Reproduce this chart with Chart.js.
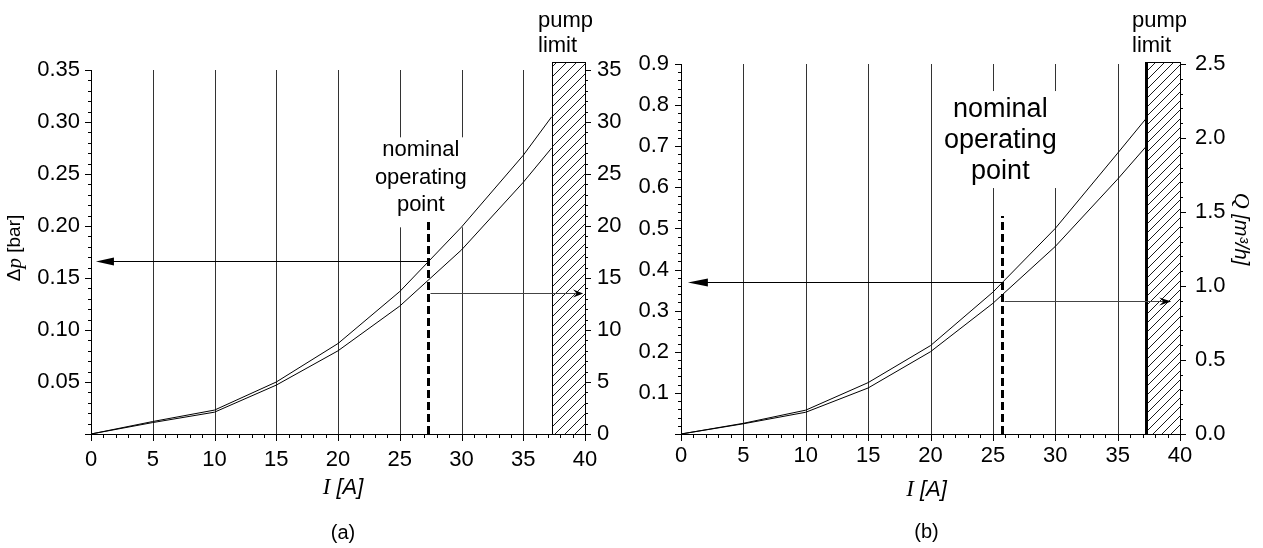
<!DOCTYPE html>
<html><head><meta charset="utf-8">
<script src="https://cdn.jsdelivr.net/npm/chart.js@4/dist/chart.umd.min.js"></script>
<style>
html,body{margin:0;padding:0;background:#fff;width:1263px;height:548px;overflow:hidden}
canvas{position:absolute;top:0}
#ca{left:0}
#cb{left:632px}
</style></head><body>
<canvas id="ca" width="632" height="548"></canvas>
<canvas id="cb" width="631" height="548"></canvas>
<script>
// ---- data ----
const currentA  = [0, 5, 10, 15, 20, 25, 30, 35, 37.3];
const pressureA = [0, 0.012, 0.023, 0.050, 0.087, 0.137, 0.199, 0.268, 0.305];
const flowA     = [0, 1.1, 2.1, 4.7, 8.0, 12.3, 17.7, 24.2, 27.5];

const currentB  = [0, 5, 10, 15, 20, 25, 30, 35, 37.3];
const pressureB = [0, 0.026, 0.058, 0.125, 0.215, 0.345, 0.500, 0.683, 0.768];
const flowB     = [0, 0.069, 0.147, 0.311, 0.556, 0.883, 1.267, 1.722, 1.944];

const xTickLabels  = ['0','5','10','15','20','25','30','35','40'];
const pTickLabelsA = ['0.05','0.10','0.15','0.20','0.25','0.30','0.35'];
const qTickLabelsA = ['0','5','10','15','20','25','30','35'];
const pTickLabelsB = ['0.1','0.2','0.3','0.4','0.5','0.6','0.7','0.8','0.9'];
const qTickLabelsB = ['0.0','0.5','1.0','1.5','2.0','2.5'];

// annotations [panel a, panel b]
const nominalCurrent  = [27.3, 25.7];
const nominalDashTop  = [0.206, 0.53];
const nominalPressure = [0.166, 0.37];
const nominalFlow     = [13.6, 0.90];
const arrowTipLeft    = [0.4, 0.55];
const arrowTipRight   = [39.85, 39.3];
const pumpLimit       = [37.3, 37.3];
const hatchTop        = [0.358, 0.905];
const noteCurrent     = [26.7, 25.6];
const notePressure    = [0.267, 0.771];
const noteLines       = ['nominal', 'operating', 'point'];
const pumpLines       = ['pump', 'limit'];
const captions        = ['(a)', '(b)'];

Chart.defaults.font.family = '"Liberation Sans", Arial, sans-serif';
Chart.defaults.color = '#000';

const SANS = '"Liberation Sans", Arial, sans-serif';
const SERIF = '"Liberation Serif", "Times New Roman", serif';

function isMajor(v, m) { return Math.abs(v / m - Math.round(v / m)) < 1e-6; }
function px(v) { return Math.round(v) + 0.5; }
function labelFrom(arr) {
  return v => { const s = arr.find(t => Math.abs(parseFloat(t) - v) < 1e-9); return s === undefined ? '' : s; };
}
function arrowHead(ctx, tipX, y, dir, len, hw, notch) {
  ctx.beginPath();
  ctx.moveTo(tipX, y);
  ctx.lineTo(tipX - dir * len, y - hw);
  ctx.lineTo(tipX - dir * len * (1 - notch), y);
  ctx.lineTo(tipX - dir * len, y + hw);
  ctx.closePath();
  ctx.fill();
}
function drawRich(ctx, parts, cx, cy, rot) {
  ctx.save();
  ctx.translate(cx, cy);
  ctx.rotate(rot);
  let w = 0;
  parts.forEach(p => { ctx.font = p.f; p.w = ctx.measureText(p.t).width; w += p.w; });
  let x = -w / 2;
  ctx.textBaseline = 'middle'; ctx.textAlign = 'left'; ctx.fillStyle = '#000';
  parts.forEach(p => { ctx.font = p.f; ctx.fillText(p.t, x, p.dy || 0); x += p.w; });
  ctx.restore();
}

function panelPlugin(P) {
  const k = P.k;
  return {
    id: 'panel' + k,
    beforeDatasetsDraw(chart) {
      const { ctx, chartArea: ca, scales: { x, y, y1 } } = chart;
      ctx.save();
      ctx.lineWidth = 1;
      // vertical grid lines at the major currents
      ctx.strokeStyle = '#333';
      x.ticks.forEach(t => {
        if (isMajor(t.value, 5) && t.value > x.min && t.value < x.max) {
          const X = px(x.getPixelForValue(t.value));
          ctx.beginPath(); ctx.moveTo(X, ca.bottom); ctx.lineTo(X, ca.top); ctx.stroke();
        }
      });
      // white space behind the note text
      const tx = x.getPixelForValue(noteCurrent[k]), ty = y.getPixelForValue(notePressure[k]);
      ctx.fillStyle = '#fff';
      ctx.fillRect(tx - P.gapHalfW, ty - P.gapAbove, 2 * P.gapHalfW, P.gapAbove + 2 * P.lineH + P.gapBelow);
      // tick marks
      ctx.strokeStyle = '#000';
      const B = Math.round(ca.bottom);
      x.ticks.forEach(t => {
        const X = px(x.getPixelForValue(t.value));
        ctx.beginPath(); ctx.moveTo(X, B); ctx.lineTo(X, B + (isMajor(t.value, 5) ? 7 : 4)); ctx.stroke();
      });
      const L = Math.round(ca.left);
      y.ticks.forEach(t => {
        const Y = px(y.getPixelForValue(t.value));
        ctx.beginPath(); ctx.moveTo(L, Y); ctx.lineTo(L - (isMajor(t.value, P.yMajor) ? 6 : 3), Y); ctx.stroke();
      });
      const R = Math.round(ca.right);
      y1.ticks.forEach(t => {
        const Y = px(y1.getPixelForValue(t.value));
        ctx.beginPath(); ctx.moveTo(R, Y); ctx.lineTo(R + (isMajor(t.value, P.y1Major) ? 6 : 3), Y); ctx.stroke();
      });
      ctx.restore();
    },
    afterDatasetsDraw(chart) {
      const { ctx, chartArea: ca, scales: { x, y, y1 } } = chart;
      ctx.save();
      // pump limit hatched band
      const hx0 = Math.round(x.getPixelForValue(pumpLimit[k])), hx1 = Math.round(x.getPixelForValue(x.max));
      const hy0 = Math.round(y.getPixelForValue(hatchTop[k])), hy1 = Math.round(ca.bottom);
      const W = hx1 - hx0, H = hy1 - hy0;
      ctx.fillStyle = '#fff';
      ctx.fillRect(hx0, hy0, W, H);
      ctx.save();
      ctx.beginPath(); ctx.rect(hx0, hy0, W, H); ctx.clip();
      ctx.strokeStyle = '#000'; ctx.lineWidth = 0.9;
      for (let s = -W; s < H + W; s += P.hatchGap) {
        ctx.beginPath();
        ctx.moveTo(hx0, hy1 - s);
        ctx.lineTo(hx1, hy1 - s - W);
        ctx.stroke();
      }
      ctx.restore();
      ctx.strokeStyle = '#000'; ctx.lineWidth = 1;
      ctx.strokeRect(hx0 + 0.5, hy0 + 0.5, W, H);
      if (P.hatchBorder > 1) {
        ctx.lineWidth = P.hatchBorder;
        ctx.beginPath(); ctx.moveTo(hx0 + 0.5, hy0); ctx.lineTo(hx0 + 0.5, hy1 + 1); ctx.stroke();
      }
      // dashed nominal line
      const nx = Math.round(x.getPixelForValue(nominalCurrent[k])) + 0.5;
      ctx.lineWidth = 3; ctx.setLineDash([8, 4]);
      ctx.beginPath(); ctx.moveTo(nx, ca.bottom); ctx.lineTo(nx, y.getPixelForValue(nominalDashTop[k])); ctx.stroke();
      ctx.setLineDash([]);
      // arrows
      ctx.lineWidth = 1; ctx.fillStyle = '#000'; ctx.strokeStyle = '#000';
      const yp = px(y.getPixelForValue(nominalPressure[k]));
      const tl = x.getPixelForValue(arrowTipLeft[k]);
      ctx.beginPath(); ctx.moveTo(nx, yp); ctx.lineTo(tl + 8, yp); ctx.stroke();
      arrowHead(ctx, tl, yp, -1, P.headL, 4, 0);
      const yq = px(y1.getPixelForValue(nominalFlow[k]));
      const tr = x.getPixelForValue(arrowTipRight[k]);
      ctx.strokeStyle = '#444';
      ctx.beginPath(); ctx.moveTo(nx + 2, yq); ctx.lineTo(tr - 3, yq); ctx.stroke();
      arrowHead(ctx, tr, yq, 1, P.headR, 4, 0.35);
      // note text
      const tx = x.getPixelForValue(noteCurrent[k]), ty = y.getPixelForValue(notePressure[k]);
      ctx.fillStyle = '#000';
      ctx.font = P.noteSize + 'px ' + SANS;
      ctx.textAlign = 'center'; ctx.textBaseline = 'alphabetic';
      noteLines.forEach((s, i) => ctx.fillText(s, tx, ty + i * P.lineH));
      // pump limit text
      ctx.font = '22px ' + SANS; ctx.textAlign = 'left';
      pumpLines.forEach((s, i) => ctx.fillText(s, hx0 - 14, hy0 - 35 + i * 25));
      // x axis title and caption
      const cx = (ca.left + ca.right) / 2;
      drawRich(ctx, [
        { t: 'I', f: 'italic 23px ' + SERIF },
        { t: ' [A]', f: 'italic 22px ' + SANS }
      ], cx + P.titleDx, ca.bottom + P.titleDy, 0);
      ctx.font = '20px ' + SANS; ctx.textAlign = 'center'; ctx.textBaseline = 'middle';
      ctx.fillText(captions[k], cx + P.titleDx, ca.bottom + P.capDy);
      if (k === 0) {
        drawRich(ctx, [
          { t: 'Δ', f: '19px ' + SANS },
          { t: 'p', f: 'italic 21px ' + SERIF },
          { t: ' [bar]', f: '19px ' + SANS }
        ], ca.left - 76, (ca.top + ca.bottom) / 2 - 4, -Math.PI / 2);
      } else {
        drawRich(ctx, [
          { t: 'Q', f: 'italic 22px ' + SERIF },
          { t: ' [m³/h]', f: 'italic 20px ' + SANS }
        ], ca.right + 61, (ca.top + ca.bottom) / 2 - 20, Math.PI / 2);
      }
      ctx.restore();
    }
  };
}

function makePanel(id, P) {
  const tickFont = { size: 22, family: SANS };
  return new Chart(document.getElementById(id), {
    type: 'line',
    data: {
      datasets: [
        { data: P.I.map((v, i) => ({ x: v, y: P.p[i] })), yAxisID: 'y',
          borderColor: '#000', borderWidth: 1, pointRadius: 0, tension: 0, fill: false },
        { data: P.I.map((v, i) => ({ x: v, y: P.q[i] })), yAxisID: 'y1',
          borderColor: '#000', borderWidth: 1, pointRadius: 0, tension: 0, fill: false }
      ]
    },
    options: {
      responsive: false, animation: false, events: [],
      layout: { padding: { top: P.top, left: 0, right: 0, bottom: 0 } },
      plugins: { legend: { display: false }, tooltip: { enabled: false } },
      scales: {
        x: {
          type: 'linear', min: 0, max: 40, position: 'bottom',
          grid: { display: false, drawTicks: false },
          border: { display: true, color: '#000', width: 1 },
          ticks: { stepSize: 1, autoSkip: false, maxRotation: 0, padding: P.xPad, font: tickFont, color: '#000',
                   callback: labelFrom(xTickLabels) },
          afterFit: s => { s.height = 548 - P.bottom; }
        },
        y: {
          type: 'linear', min: 0, max: P.yMax, position: 'left',
          grid: { display: false, drawTicks: false },
          border: { display: true, color: '#000', width: 1 },
          ticks: { stepSize: P.yMinor, autoSkip: false, padding: P.yPad, font: tickFont, color: '#000',
                   callback: labelFrom(P.yLabels) },
          afterFit: s => { s.width = P.left; }
        },
        y1: {
          type: 'linear', min: 0, max: P.y1Max, position: 'right',
          grid: { display: false, drawTicks: false },
          border: { display: true, color: '#000', width: 1 },
          ticks: { stepSize: P.y1Minor, autoSkip: false, padding: P.y1Pad, font: tickFont, color: '#000',
                   callback: labelFrom(P.y1Labels) },
          afterFit: s => { s.width = P.rightW; }
        }
      }
    },
    plugins: [panelPlugin(P)]
  });
}

makePanel('ca', {
  k: 0, I: currentA, p: pressureA, q: flowA,
  yMax: 0.35, yMinor: 0.01, yMajor: 0.05, yLabels: pTickLabelsA,
  y1Max: 35, y1Minor: 1, y1Major: 5, y1Labels: qTickLabelsA,
  top: 70, bottom: 434, left: 91, rightW: 47,
  xPad: 13, yPad: 11, y1Pad: 12,
  noteSize: 22, lineH: 27.5, gapHalfW: 51, gapAbove: 19, gapBelow: 16,
  hatchGap: 10, hatchBorder: 1, headL: 18, headR: 10,
  titleDx: 5, titleDy: 54, capDy: 99
});
makePanel('cb', {
  k: 1, I: currentB, p: pressureB, q: flowB,
  yMax: 0.9, yMinor: 0.02, yMajor: 0.1, yLabels: pTickLabelsB,
  y1Max: 2.5, y1Minor: 0.1, y1Major: 0.5, y1Labels: qTickLabelsB,
  top: 64, bottom: 434, left: 49, rightW: 83,
  xPad: 9, yPad: 12, y1Pad: 15,
  noteSize: 27, lineH: 31, gapHalfW: 60, gapAbove: 26, gapBelow: 9,
  hatchGap: 9, hatchBorder: 3, headL: 20, headR: 12,
  titleDx: -4, titleDy: 56, capDy: 98
});
</script>
</body></html>
